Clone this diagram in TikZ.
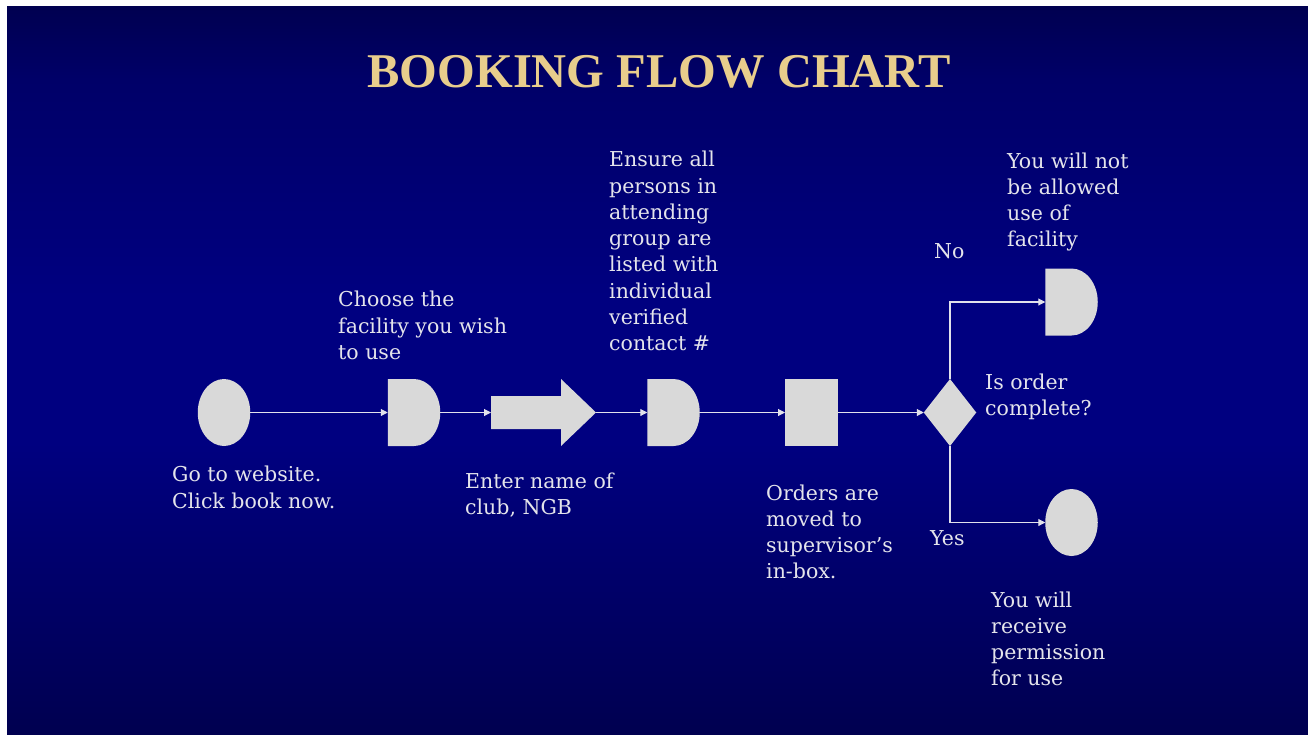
\documentclass[tikz,border=0pt]{standalone}
\usepackage{fontspec}
\setmainfont{DejaVu Serif}
\newfontfamily\titlefont{Liberation Serif}
\usetikzlibrary{arrows.meta,shapes.geometric}
\definecolor{bgdark}{RGB}{0,0,80}
\definecolor{bgupper}{RGB}{0,0,104}
\definecolor{bgmid}{RGB}{0,0,128}
\definecolor{shapefill}{RGB}{217,217,217}
\definecolor{labeltext}{RGB}{228,228,235}
\definecolor{linecol}{RGB}{225,225,235}
\definecolor{titlegold}{RGB}{232,205,140}
\pgfdeclareverticalshading{slidebg}{100bp}{color(0bp)=(bgdark); color(25bp)=(bgdark); color(45bp)=(bgmid); color(55bp)=(bgmid); color(70bp)=(bgupper); color(75bp)=(bgdark); color(100bp)=(bgdark)}
\begin{document}
\begin{tikzpicture}[x=1pt,y=-1pt,
  flowshape/.style={draw=none, inner sep=0pt, outer sep=0pt},
  oval/.style={flowshape, ellipse, fill=shapefill, minimum width=52.5pt, minimum height=67pt},
  delaybox/.style={flowshape, rectangle, minimum width=52.5pt, minimum height=67pt,
    path picture={\fill[shapefill] (path picture bounding box.north west)
      -- ([xshift=-26.25pt]path picture bounding box.north east)
      arc[start angle=90,end angle=-90,x radius=26.25pt,y radius=33.5pt]
      -- (path picture bounding box.south west) -- cycle;}},
  blockarrow/.style={flowshape, rectangle, minimum width=105pt, minimum height=67pt,
    path picture={\fill[shapefill] ([yshift=16.5pt]path picture bounding box.west)
      -- ([xshift=70pt,yshift=16.5pt]path picture bounding box.west)
      -- ([xshift=70pt]path picture bounding box.north west)
      -- (path picture bounding box.east)
      -- ([xshift=70pt]path picture bounding box.south west)
      -- ([xshift=70pt,yshift=-16.5pt]path picture bounding box.west)
      -- ([yshift=-16.5pt]path picture bounding box.west) -- cycle;}},
  decision/.style={flowshape, diamond, fill=shapefill, minimum width=52.5pt, minimum height=67pt},
  processbox/.style={flowshape, rectangle, fill=shapefill, minimum width=53pt, minimum height=67pt},
  connector/.style={draw=linecol, line width=1.1pt, -{Triangle[length=7pt,width=7pt]}},
  note/.style={text=labeltext, align=left, inner sep=0pt, anchor=base west,
    font=\fontsize{20.5}{26.3}\selectfont},
]
\fill[white] (0,0) rectangle (1308,734);
\shade[shading=slidebg] (7,6) rectangle (1308,734);
\useasboundingbox (0,0) rectangle (1308,734);

\node[text=titlegold, font=\titlefont\bfseries\fontsize{48.5}{56}\selectfont, anchor=base, inner sep=0pt]
  (title) at (659,87) {BOOKING FLOW CHART};

\node[oval] (start) at (224,412.5) {};
\node[delaybox] (choose) at (414,412.5) {};
\node[blockarrow] (enter) at (543.5,412.5) {};
\node[delaybox] (ensure) at (673.5,412.5) {};
\node[processbox] (orders) at (811.5,412.5) {};
\node[decision] (dec) at (950,412.5) {};
\node[delaybox] (refuse) at (1071.5,302) {};
\node[oval] (permit) at (1071.5,522.5) {};

\draw[connector] (start.east) -- (choose.west);
\draw[connector] (choose.east) -- (enter.west);
\draw[connector] (enter.east) -- (ensure.west);
\draw[connector] (ensure.east) -- (orders.west);
\draw[connector] (orders.east) -- (dec.west);
\draw[connector] (dec.north) |- (refuse.west);
\draw[connector] (dec.south) |- (permit.west);

% anchor = baseline of the last line
\node[note] (tstart) at (172,508) {Go to website.\\Click book now.};
\node[note] (tchoose) at (338,359.3) {Choose the\\facility you wish\\to use};
\node[note] (tenter) at (465,514.8) {Enter name of\\club, NGB};
\node[note] (tensure) at (609,350.8) {Ensure all\\persons in\\attending\\group are\\listed with\\individual\\verified\\contact \#};
\node[note] (torders) at (766,578.9) {Orders are\\moved to\\supervisor’s\\in-box.};
\node[note] (tdec) at (985,415.6) {Is order\\complete?};
\node[note] (tno) at (934,258) {No};
\node[note] (tyes) at (930,545) {Yes};
\node[note] (trefuse) at (1007,246.9) {You will not\\be allowed\\use of\\facility};
\node[note] (tpermit) at (991,685.9) {You will\\receive\\permission\\for use};
\end{tikzpicture}
\end{document}
